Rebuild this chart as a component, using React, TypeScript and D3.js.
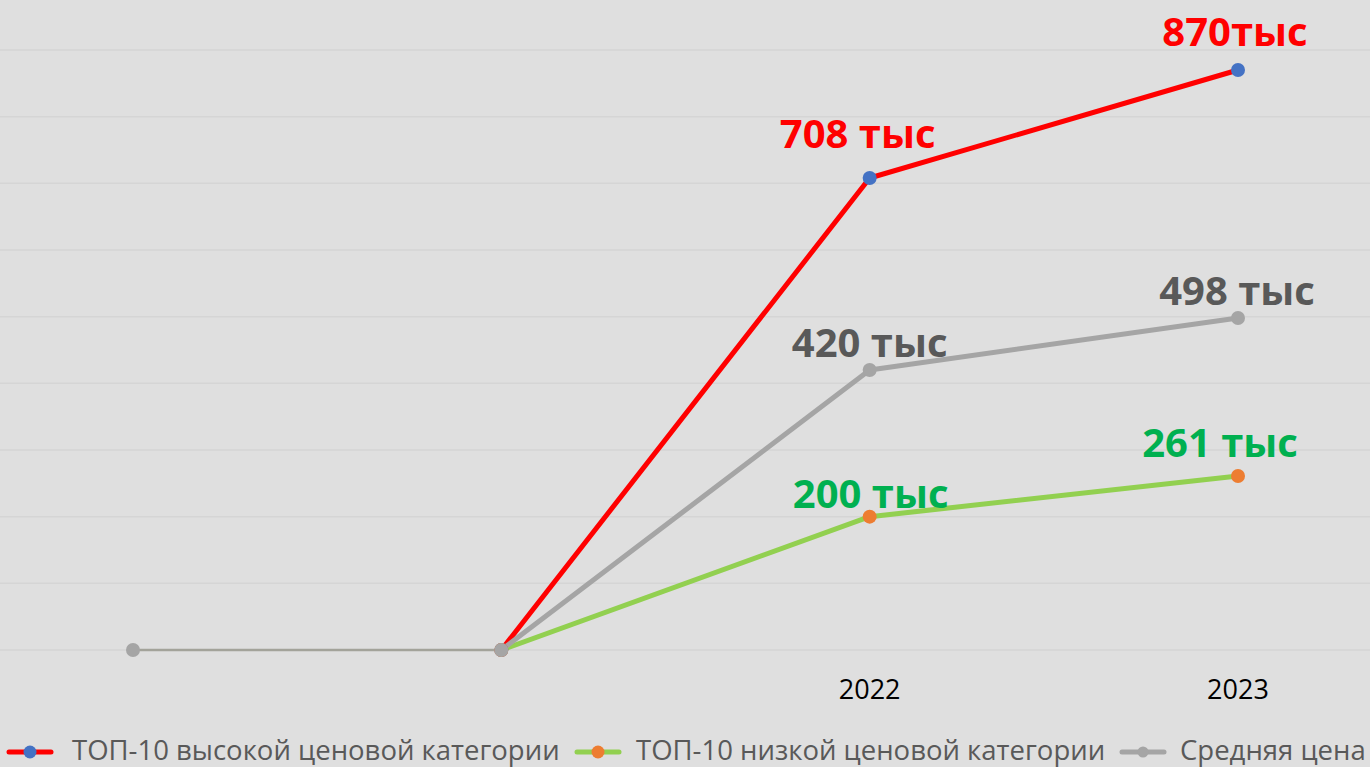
import React from "react";
import * as d3 from "d3";

const categories = ["c0", "c1", "2022", "2023"];
const categoryLabels = ["", "", "2022", "2023"];
const highSeries: (number | null)[] = [null, 0, 708, 870];
const lowSeries: (number | null)[] = [null, 0, 200, 261];
const avgSeries: (number | null)[] = [0, 0, 420, 498];
const highLabels = ["", "", "708 тыс", "870тыс"];
const lowLabels = ["", "", "200 тыс", "261 тыс"];
const avgLabels = ["", "", "420 тыс", "498 тыс"];
const gridTicks = [0, 100, 200, 300, 400, 500, 600, 700, 800, 900];
const legendNames = [
  "ТОП-10 высокой ценовой категории",
  "ТОП-10 низкой ценовой категории",
  "Средняя цена",
];

const W = 1370;
const H = 767;
const FONT = "'Open Sans', 'Noto Sans', sans-serif";

// label offsets (dx, dy from point to text baseline center)
const highOff = [[0, 0], [0, 0], [-12, -30], [-3, -24]];
const lowOff = [[0, 0], [0, 0], [1, -9], [-18, -19]];
const avgOff = [[0, 0], [0, 0], [0, -13], [-1, -13]];

export default function App() {
  const x = d3.scalePoint<string>().domain(categories).range([133, 1238]);
  const y = d3.scaleLinear().domain([0, 900]).range([650, 50]);

  const line = d3
    .line<[string, number | null]>()
    .defined((d) => d[1] !== null)
    .x((d) => x(d[0]) as number)
    .y((d) => y(d[1] as number));

  const pairs = (s: (number | null)[]) =>
    categories.map((c, i) => [c, s[i]] as [string, number | null]);

  const series = [
    { data: highSeries, color: "#ff0000", marker: "#4472c4", labels: highLabels, labelColor: "#ff0000", off: highOff },
    { data: lowSeries, color: "#92d050", marker: "#ed7d31", labels: lowLabels, labelColor: "#00b050", off: lowOff },
    { data: avgSeries, color: "#a5a5a5", marker: "#a5a5a5", labels: avgLabels, labelColor: "#595959", off: avgOff },
  ];

  const avgFirst = pairs(avgSeries).slice(0, 2);
  const avgRest = pairs(avgSeries).slice(1);

  const legend = [
    { x0: 9, tx: 72, color: "#ff0000", marker: "#4472c4", r: 6.5 },
    { x0: 577, tx: 636, color: "#92d050", marker: "#ed7d31", r: 6.5 },
    { x0: 1122, tx: 1180, color: "#a5a5a5", marker: "#a5a5a5", r: 5.5 },
  ];

  return (
    <svg width={W} height={H} style={{ position: "absolute", left: 0, top: 0, display: "block" }}>
      <rect x={0} y={0} width={W} height={H} fill="#dfdfdf" />
      {gridTicks.map((t) => (
        <line key={t} x1={0} x2={W} y1={y(t)} y2={y(t)} stroke="#d5d5d5" strokeWidth={1.5} />
      ))}
      {categories.map((c, i) => (
        <text key={c} x={x(c)} y={699} textAnchor="middle" fontFamily={FONT} fontSize={27} fill="#000">
          {categoryLabels[i]}
        </text>
      ))}
      {/* lines */}
      <path d={line(pairs(highSeries)) || ""} fill="none" stroke="#ff0000" strokeWidth={5} strokeLinejoin="round" />
      <path d={line(pairs(lowSeries)) || ""} fill="none" stroke="#92d050" strokeWidth={5} strokeLinejoin="round" />
      <path d={line(avgFirst) || ""} fill="none" stroke="#a3a39a" strokeWidth={2.5} />
      <path d={line(avgRest) || ""} fill="none" stroke="#a5a5a5" strokeWidth={5} strokeLinejoin="round" />
      {/* markers */}
      {series.map((s, si) =>
        s.data.map((v, i) =>
          v === null ? null : (
            <circle key={si + "-" + i} cx={x(categories[i])} cy={y(v)} r={7} fill={s.marker} />
          )
        )
      )}
      {/* data labels */}
      {series.map((s, si) =>
        s.data.map((v, i) =>
          v === null || !s.labels[i] ? null : (
            <text
              key={"l" + si + "-" + i}
              x={(x(categories[i]) as number) + s.off[i][0]}
              y={y(v) + s.off[i][1]}
              textAnchor="middle"
              fontFamily={FONT}
              fontWeight={700}
              fontSize={40}
              fill={s.labelColor}
            >
              {s.labels[i]}
            </text>
          )
        )
      )}
      {/* legend */}
      {legend.map((l, i) => (
        <g key={"lg" + i}>
          <line x1={l.x0} x2={l.x0 + 42} y1={752} y2={752} stroke={l.color} strokeWidth={5} strokeLinecap="round" />
          <circle cx={l.x0 + 21} cy={752} r={l.r} fill={l.marker} />
          <text x={l.tx} y={760} fontFamily={FONT} fontSize={27.5} fill="#595959">
            {legendNames[i]}
          </text>
        </g>
      ))}
    </svg>
  );
}
